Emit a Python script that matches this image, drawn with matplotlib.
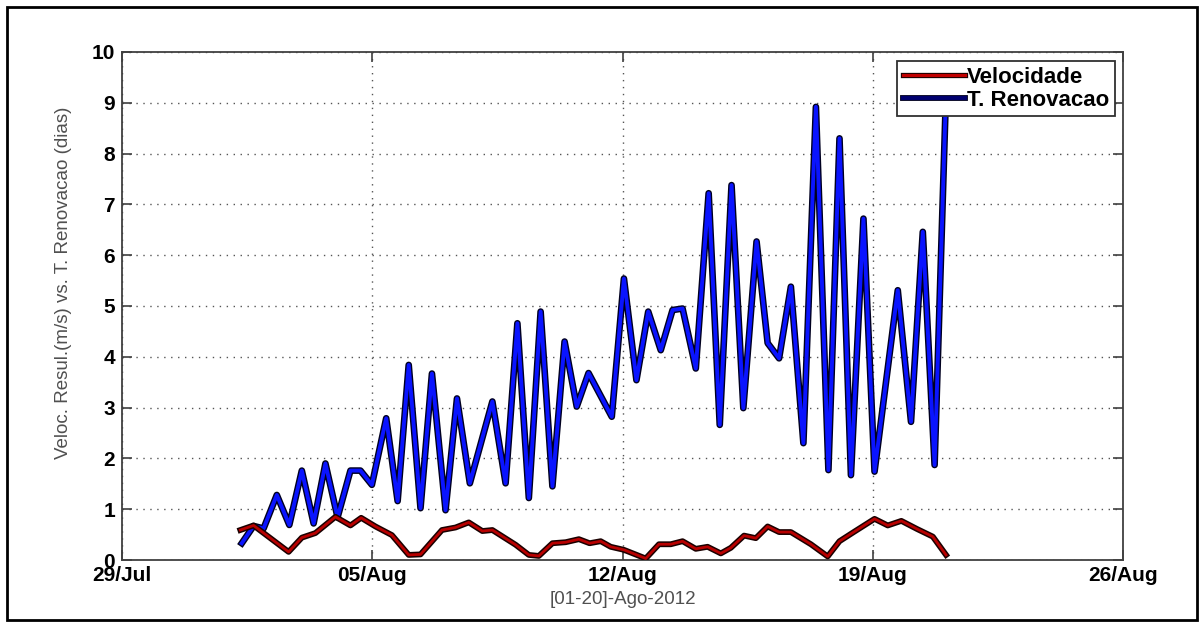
import matplotlib
matplotlib.use("Agg")
import matplotlib.pyplot as plt
import matplotlib.patheffects as pe
from matplotlib.patches import Rectangle
import datetime as dt

# ---- data (days after 29-Jul-2012, value) ----
t_renov_days = [3.35, 3.68, 3.96, 4.33, 4.68, 5.03, 5.36, 5.69, 6.03, 6.39, 6.67, 6.99,
                7.39, 7.71, 8.02, 8.35, 8.67, 9.05, 9.37, 9.73, 10.36, 10.73, 11.06,
                11.38, 11.71, 12.04, 12.38, 12.72, 13.05, 13.70, 14.04, 14.39, 14.72,
                15.07, 15.40, 15.68, 16.05, 16.41, 16.72, 17.05, 17.38, 17.75, 18.06,
                18.38, 18.71, 19.06, 19.41, 19.76, 20.07, 20.39, 20.74, 21.05, 21.70,
                22.07, 22.40, 22.73, 23.03]
t_renov_vals = [0.33, 0.67, 0.62, 1.28, 0.69, 1.76, 0.72, 1.90, 0.84, 1.76, 1.76, 1.48,
                2.79, 1.16, 3.84, 1.02, 3.67, 0.98, 3.18, 1.51, 3.12, 1.51, 4.66,
                1.22, 4.89, 1.45, 4.30, 3.02, 3.68, 2.82, 5.54, 3.54, 4.89,
                4.13, 4.92, 4.95, 3.77, 7.22, 2.66, 7.38, 2.99, 6.27, 4.27,
                3.97, 5.38, 2.30, 8.92, 1.77, 8.30, 1.67, 6.72, 1.74, 5.31,
                2.72, 6.46, 1.87, 8.75]

vel_days = [3.31, 3.68, 4.66, 5.03, 5.41, 5.97, 6.39, 6.69, 7.09, 7.55, 8.02, 8.35,
            8.95, 9.33, 9.70, 10.08, 10.36, 11.01, 11.38, 11.66, 12.04, 12.41, 12.78,
            13.08, 13.39, 13.67, 14.04, 14.65, 15.02, 15.35, 15.68, 16.05, 16.38,
            16.75, 17.03, 17.40, 17.73, 18.06, 18.38, 18.71, 19.27, 19.74, 20.07,
            20.49, 21.05, 21.42, 21.80, 22.24, 22.68, 23.05]
vel_vals = [0.59, 0.68, 0.16, 0.44, 0.53, 0.85, 0.68, 0.83, 0.66, 0.49, 0.10, 0.11,
            0.59, 0.64, 0.74, 0.57, 0.59, 0.30, 0.10, 0.08, 0.33, 0.35, 0.41,
            0.33, 0.37, 0.26, 0.20, 0.03, 0.31, 0.31, 0.37, 0.22, 0.26,
            0.13, 0.24, 0.48, 0.43, 0.66, 0.55, 0.55, 0.31, 0.07, 0.37,
            0.56, 0.81, 0.68, 0.77, 0.61, 0.46, 0.10]

x_tick_labels = ["29/Jul", "05/Aug", "12/Aug", "19/Aug", "26/Aug"]
y_ticks = list(range(0, 11))
series_labels = ["Velocidade", "T. Renovacao"]

base = dt.datetime(2012, 7, 29)
t_renov_x = [base + dt.timedelta(days=d) for d in t_renov_days]
vel_x = [base + dt.timedelta(days=d) for d in vel_days]
xticks = [base + dt.timedelta(days=7 * i) for i in range(len(x_tick_labels))]

plt.rcParams['font.family'] = ['Liberation Sans', 'DejaVu Sans']

W, H = 1204, 627
fig = plt.figure(figsize=(W / 100, H / 100), dpi=100)
ax = fig.add_axes([122 / W, 1 - 560 / H, (1123 - 122) / W, (560 - 52) / H])

red_fx = [pe.Stroke(linewidth=4.2, foreground='#1a0000'), pe.Normal()]
blue_fx = [pe.Stroke(linewidth=4.8, foreground='#000020'), pe.Normal()]

ax.plot(vel_x, vel_vals, color='#b80000', lw=2.0, zorder=4, path_effects=red_fx)
ax.plot(t_renov_x, t_renov_vals, color='#0a14ff', lw=2.8, zorder=3, path_effects=blue_fx)

ax.set_xlim(xticks[0], xticks[-1])
ax.set_ylim(0, 10)
ax.set_xticks(xticks)
ax.set_xticklabels(x_tick_labels)
ax.set_yticks(y_ticks)

ax.grid(True, linestyle=(0, (1, 4)), color='#555555', linewidth=1.0)
ax.tick_params(direction='in', length=7, width=1.2, color='#404040',
               top=True, right=True, labelsize=15)
ax.tick_params(axis='x', pad=4)
ax.tick_params(axis='y', pad=5)
for lab in ax.get_xticklabels() + ax.get_yticklabels():
    lab.set_fontweight('bold')
for s in ax.spines.values():
    s.set_color('#404040')
    s.set_linewidth(1.3)

ax.set_ylabel('Veloc. Resul.(m/s) vs. T. Renovacao (dias)', fontsize=13.5, color='#505050')
ax.yaxis.set_label_coords(-0.058, 0.545)
ax.set_xlabel('[01-20]-Ago-2012', fontsize=13.5, color='#505050')
ax.xaxis.set_label_coords(0.5, -(599 - 560) / (560 - 52))
ax.xaxis.label.set_va('center')
ax.yaxis.label.set_va('center')

h1, = ax.plot([], [], color='#c00000', lw=2.2,
              path_effects=[pe.Stroke(linewidth=3.8, foreground='#200000'), pe.Normal()])
h2, = ax.plot([], [], color='#000070', lw=2.8,
              path_effects=[pe.Stroke(linewidth=4.2, foreground='#000020'), pe.Normal()])
leg = ax.legend([h1, h2], series_labels, loc='upper right',
                bbox_to_anchor=(1115 / W, 1 - 61 / H), bbox_transform=fig.transFigure,
                fancybox=False, framealpha=1, edgecolor='#303030',
                prop={'size': 16, 'weight': 'bold'},
                handlelength=2.8, handletextpad=0.1, borderpad=0.25, labelspacing=0.1,
                borderaxespad=0)
leg.set_zorder(10)
leg.get_frame().set_linewidth(1.3)

fig.patches.append(Rectangle((7 / W, 7 / H), 1 - 14 / W, 1 - 14 / H,
                             transform=fig.transFigure, fill=False,
                             edgecolor='black', linewidth=2))

fig.savefig('out.png', dpi=100)
